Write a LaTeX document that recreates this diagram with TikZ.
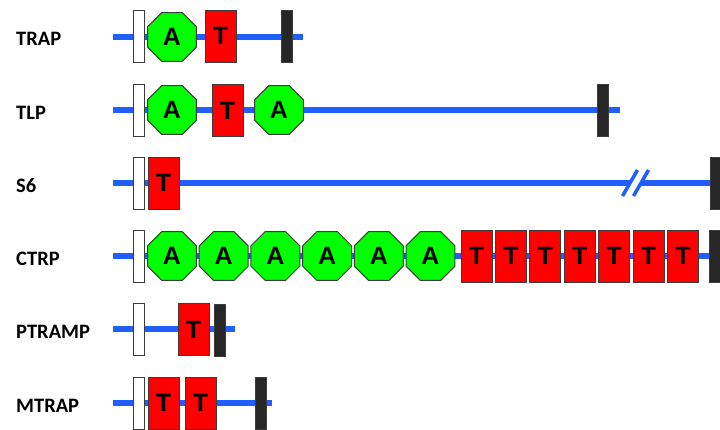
\documentclass[tikz,border=0pt]{standalone}
\usepackage{fontspec}
\setmainfont{Liberation Sans}
\newfontfamily\lblfont{Carlito}
\usetikzlibrary{shapes.geometric}
\definecolor{bbl}{RGB}{31,95,255}
\definecolor{kbar}{RGB}{38,38,38}
\definecolor{edgec}{RGB}{60,60,60}
\begin{document}
\begin{tikzpicture}[x=1pt,y=-1pt,
  backbone/.style={line width=6pt,draw=bbl},
  nterm/.style={draw=edgec,fill=white,line width=1pt,minimum width=11pt,minimum height=52pt,inner sep=0pt},
  cterm/.style={nterm,fill=kbar},
  tdom/.style={draw=edgec,fill=red,line width=1pt,minimum width=31pt,minimum height=52pt,inner sep=0pt,font=\bfseries\fontsize{25}{25}\selectfont},
  adom/.style={regular polygon,regular polygon sides=8,minimum size=53pt,inner sep=0pt,draw=edgec,fill=green,line width=1pt,font=\bfseries\fontsize{25}{25}\selectfont},
  lbl/.style={anchor=west,inner sep=0pt,font=\lblfont\bfseries\fontsize{20.5}{20.5}\selectfont}]
\useasboundingbox (0,0) rectangle (720,429);
% TRAP
\node[lbl] (l1) at (16,39) {TRAP};
\coordinate (s1) at (113,37); \coordinate (e1) at (303,37);
\draw[backbone] (s1) -- (e1);
\node[nterm] (n1) at (138.5,36) {};
\node[adom] (a11) at (172,37) {A};
\node[tdom] (t11) at (220.5,36) {T};
\node[cterm] (c1) at (286.5,36) {};
% TLP
\node[lbl] (l2) at (16,112.5) {TLP};
\coordinate (s2) at (113,110); \coordinate (e2) at (620,110);
\draw[backbone] (s2) -- (e2);
\node[nterm] (n2) at (138.5,110) {};
\node[adom] (a21) at (172,110) {A};
\node[tdom] (t21) at (227.5,110.5) {T};
\node[adom] (a22) at (279,110) {A};
\node[cterm] (c2) at (602.5,110) {};
% S6
\node[lbl] (l3) at (16,185.5) {S6};
\coordinate (s3) at (113,183); \coordinate (e3) at (720,183);
\draw[backbone] (s3) -- (e3);
\fill[white] (622.5,196) -- (637.5,170) -- (648.5,170) -- (633.5,196) -- cycle;
\draw[bbl,line width=3.5pt] (622.5,196) -- (637.5,170);
\draw[bbl,line width=3.5pt] (633.5,196) -- (648.5,170);
\node[nterm] (n3) at (138.5,183) {};
\node[tdom] (t31) at (163.5,183) {T};
\node[cterm] (c3) at (715.5,183) {};
% CTRP
\node[lbl] (l4) at (16,258.5) {CTRP};
\coordinate (s4) at (113,256); \coordinate (e4) at (720,256);
\draw[backbone] (s4) -- (e4);
\node[nterm] (n4) at (138.5,256) {};
\foreach \i/\x in {1/172,2/223.7,3/275.4,4/327.1,5/378.8,6/430.5}
  \node[adom] (a4\i) at (\x,256) {A};
\foreach \i/\x in {1/476.5,2/510.9,3/545.3,4/579.7,5/614.1,6/648.5,7/682.9}
  \node[tdom] (t4\i) at (\x,256) {T};
\node[cterm] (c4) at (714.5,256) {};
% PTRAMP
\node[lbl] (l5) at (16,332) {PTRAMP};
\coordinate (s5) at (113,329); \coordinate (e5) at (235,329);
\draw[backbone] (s5) -- (e5);
\node[nterm] (n5) at (138.5,329.5) {};
\node[tdom] (t51) at (193.5,329.5) {T};
\node[cterm] (c5) at (219.5,330.5) {};
% MTRAP
\node[lbl] (l6) at (16,405.5) {MTRAP};
\coordinate (s6) at (113,403); \coordinate (e6) at (272,403);
\draw[backbone] (s6) -- (e6);
\node[nterm] (n6) at (138.5,403) {};
\node[tdom] (t61) at (163.5,403) {T};
\node[tdom] (t62) at (200.5,403) {T};
\node[cterm] (c6) at (261,403) {};
\end{tikzpicture}
\end{document}
